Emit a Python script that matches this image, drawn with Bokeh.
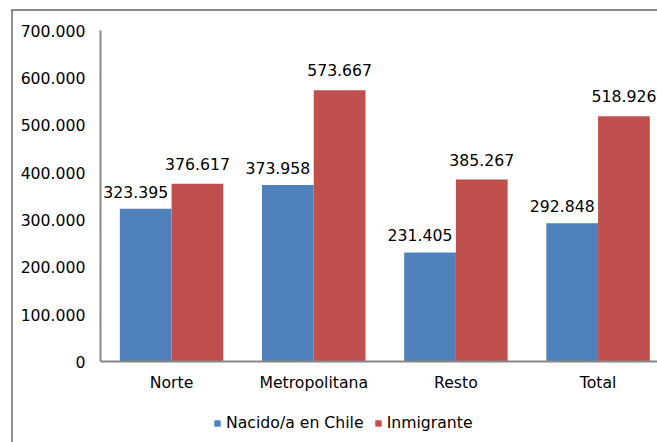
from bokeh.plotting import figure
from bokeh.models import (ColumnDataSource, Range1d, FixedTicker, LabelSet,
                          Legend, LegendItem)
from bokeh.core.properties import value
from bokeh.transform import dodge
from bokeh.embed import file_html
from bokeh.resources import INLINE

categories = ["Norte", "Metropolitana", "Resto", "Total"]
nacido = [323395, 373958, 231405, 292848]
inmigrante = [376617, 573667, 385267, 518926]
series_names = ["Nacido/a en Chile", "Inmigrante"]
y_ticks = [0, 100000, 200000, 300000, 400000, 500000, 600000, 700000]
y_tick_labels = ["0", "100.000", "200.000", "300.000", "400.000", "500.000", "600.000", "700.000"]

BLUE = "#4F81BD"
RED = "#C0504D"
FONT = "DejaVu Sans"
FS = "15.7px"
AXIS_GRAY = "#868686"
BORDER_GRAY = "#8c8c8c"


def fmt(v):
    return f"{v:,}".replace(",", ".")


xpos = [i + 0.5 for i in range(len(categories))]
src = ColumnDataSource(dict(
    x=xpos,
    nacido=nacido,
    inmigrante=inmigrante,
    nacido_lbl=[fmt(v) for v in nacido],
    inmigrante_lbl=[fmt(v) for v in inmigrante],
))

border_css = (f"linear-gradient({BORDER_GRAY},{BORDER_GRAY}) 11px 9px / 100% 2px no-repeat, "
              f"linear-gradient({BORDER_GRAY},{BORDER_GRAY}) 11px 9px / 2px 100% no-repeat, white")

p = figure(width=657, height=442, output_backend="svg", toolbar_location=None,
           x_range=Range1d(0, 3.918), y_range=Range1d(-170000, 700000),
           min_border_left=100, min_border_right=0, min_border_top=30,
           min_border_bottom=0, styles={"background": border_css})
p.outline_line_color = None
p.xgrid.visible = False
p.ygrid.visible = False
p.background_fill_alpha = 0
p.border_fill_alpha = 0

bw = 0.364
r1 = p.vbar(x=dodge("x", -bw / 2, range=p.x_range), top="nacido", width=bw,
            source=src, fill_color=BLUE, line_color=None)
r2 = p.vbar(x=dodge("x", bw / 2, range=p.x_range), top="inmigrante", width=bw,
            source=src, fill_color=RED, line_color=None)

lab1 = LabelSet(x=dodge("x", -bw / 2, range=p.x_range), y="nacido", text="nacido_lbl",
                source=src, x_offset=-10, y_offset=17, text_align="center",
                text_baseline="middle", text_font=value(FONT), text_font_size=value(FS),
                text_color="black")
lab2 = LabelSet(x=dodge("x", bw / 2, range=p.x_range), y="inmigrante", text="inmigrante_lbl",
                source=src, x_offset=0, y_offset=20, text_align="center",
                text_baseline="middle", text_font=value(FONT), text_font_size=value(FS),
                text_color="black")
p.add_layout(lab1)
p.add_layout(lab2)

# axes
p.xaxis.fixed_location = 0
p.xaxis.ticker = FixedTicker(ticks=xpos)
p.xaxis.major_label_overrides = {x: c for x, c in zip(xpos, categories)}
p.yaxis.ticker = FixedTicker(ticks=y_ticks)
p.yaxis.major_label_overrides = {t: l for t, l in zip(y_ticks, y_tick_labels)}
p.yaxis.bounds = (0, 700000)
for ax in (p.xaxis, p.yaxis):
    ax.axis_line_color = AXIS_GRAY
    ax.axis_line_width = 2
    ax.major_tick_line_color = None
    ax.minor_tick_line_color = None
    ax.major_tick_out = 0
    ax.major_tick_in = 0
    ax.major_label_text_font = FONT
    ax.major_label_text_font_size = FS
    ax.major_label_text_color = "black"
p.xaxis.major_label_standoff = 11
p.yaxis.major_label_standoff = 15

# legend
legend = Legend(items=[LegendItem(label=series_names[0], renderers=[r1]),
                       LegendItem(label=series_names[1], renderers=[r2])],
                orientation="horizontal", location=(113, 10),
                glyph_width=8, glyph_height=8, label_standoff=5, spacing=10,
                padding=0, margin=0, border_line_color=None,
                background_fill_alpha=0, label_text_font=FONT,
                label_text_font_size=FS, label_text_color="black")
p.add_layout(legend, "center")

open("out.html", "w").write(file_html(p, INLINE))
